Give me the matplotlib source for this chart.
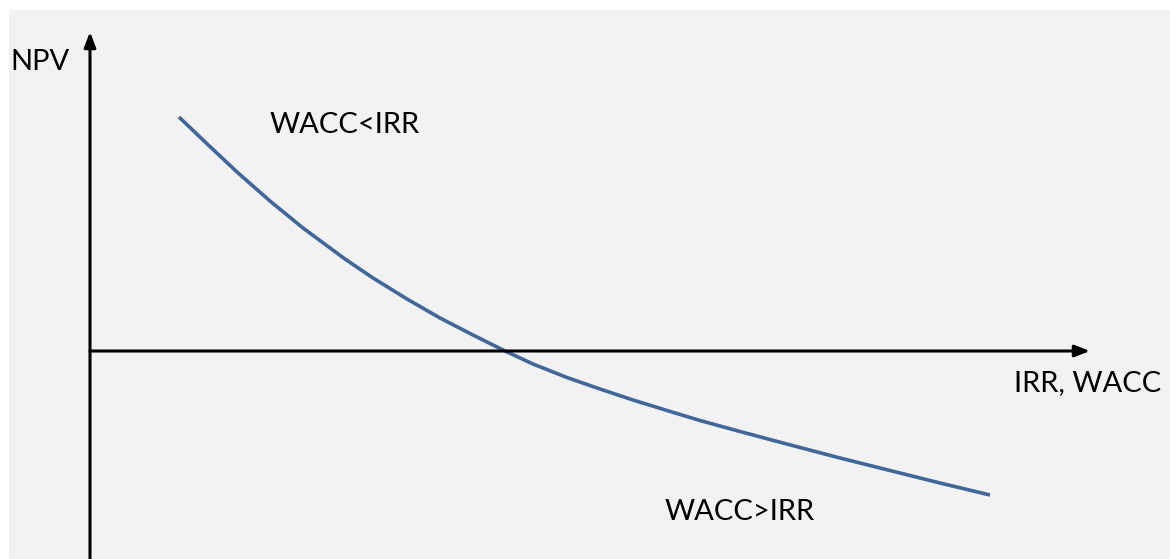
import matplotlib.pyplot as plt
from matplotlib.patches import Rectangle

plt.rcParams['font.family'] = ['Lato', 'DejaVu Sans']

# NPV profile (discount rate vs NPV, arbitrary units)
rate = [8.9, 11.3, 14.7, 18.0, 21.3, 25.5, 28.3, 31.7, 35.0, 38.3, 41.5,
        44.3, 47.7, 51.0, 54.3, 57.7, 61.0, 65.0, 69.3, 75.0, 80.0, 85.0, 90.0]
npv = [23.4, 21.1, 17.9, 15.0, 12.3, 9.2, 7.3, 5.2, 3.3, 1.6, 0.0,
       -1.3, -2.65, -3.8, -4.9, -5.95, -6.95, -8.05, -9.2, -10.7, -11.95, -13.2, -14.4]

# labels: (text, x, y)
labels = [
    ("NPV", -8.0, 28.1),
    ("WACC<IRR", 18.0, 21.8),
    ("IRR, WACC", 92.4, -4.0),
    ("WACC>IRR", 57.5, -16.9),
]

fig = plt.figure(figsize=(11.7, 5.59), dpi=100)
fig.patch.set_facecolor('white')

ax = fig.add_axes([0, 0, 1, 1])
ax.set_facecolor('none')
ax.set_xlim(-9.0, 108.0)
ax.set_ylim(-20.8, 35.1)
ax.axis('off')

# grey slide background, with thin white margin top and left
ax.add_patch(Rectangle((9 / 1170, 0), 1 - 9 / 1170, 1 - 10 / 559,
                       transform=fig.transFigure, facecolor='#f2f2f2',
                       edgecolor='none', zorder=-10, clip_on=False))

arrow = dict(arrowstyle='-|>,head_length=0.9,head_width=0.35', color='black',
             lw=2.2, shrinkA=0, shrinkB=0)
ax.annotate('', xy=(0, 31.9), xytext=(0, -20.8), arrowprops=arrow)
ax.annotate('', xy=(100.0, 0), xytext=(0, 0), arrowprops=arrow)

ax.plot(rate, npv, color='#41669a', lw=2.6, solid_capstyle='butt',
        solid_joinstyle='round')

for txt, x, y in labels:
    ax.text(x, y, txt, fontsize=21, ha='left', va='baseline', color='black')

fig.savefig('out.png', dpi=100)
